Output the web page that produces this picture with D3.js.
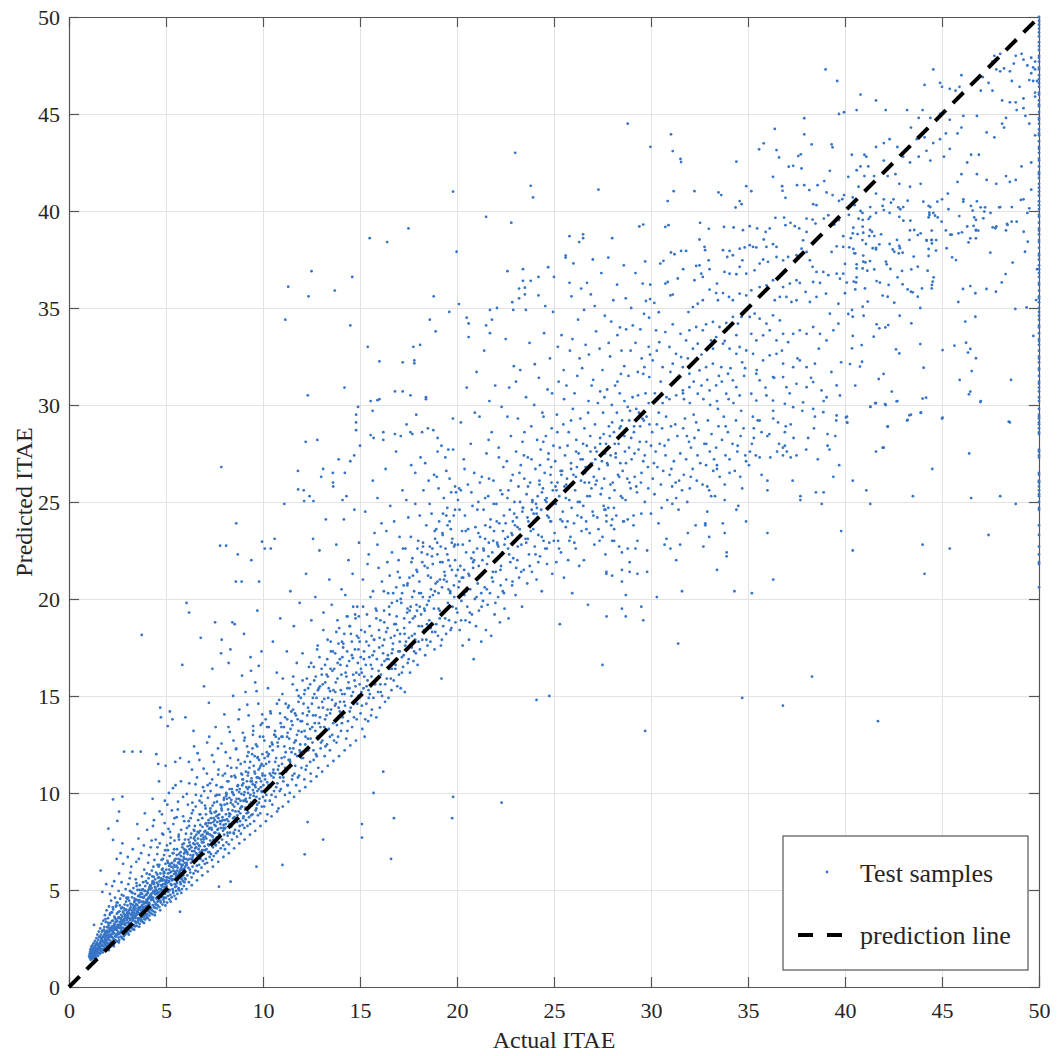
<!DOCTYPE html>
<html>
<head>
<meta charset="utf-8">
<script src="https://cdn.jsdelivr.net/npm/d3@7"></script>
<style>
  body { margin: 0; background: #fff; }
  text { font-family: "Liberation Serif", "Times New Roman", serif; fill: #262626; }
</style>
</head>
<body>
<div class="graph"></div>
<script>
// ---- data, pairs are [actual, predicted] ----
var tickValues = [0, 5, 10, 15, 20, 25, 30, 35, 40, 45, 50];
var referenceLine = [0, 50];
var cappedActual = 50;

var coreLow = [
1.04,1.58, 1.06,1.70, 1.07,1.49, 1.09,1.82, 1.10,1.63, 1.11,1.95, 1.13,1.54, 1.14,1.74, 1.15,2.08, 1.17,1.66, 1.18,1.45, 1.19,1.87, 1.21,2.15, 1.22,1.59, 1.23,1.78, 1.25,1.97, 1.26,1.50, 1.27,2.26, 1.29,1.70, 1.29,3.20, 1.30,1.88,
1.32,2.05, 1.33,1.62, 1.34,2.38, 1.36,1.80, 1.37,1.55, 1.38,2.18, 1.40,1.96, 1.41,2.52, 1.42,1.68, 1.44,2.30, 1.45,1.85, 1.46,2.70, 1.48,2.02, 1.49,1.60, 1.50,2.44, 1.52,1.77, 1.53,2.16, 1.54,2.85, 1.56,1.93, 1.57,2.58, 1.58,1.70, 1.60,2.32,
1.61,3.02, 1.62,2.08, 1.63,6.00, 1.64,1.84, 1.65,2.70, 1.67,2.22, 1.68,3.25, 1.69,1.95, 1.71,2.48, 1.72,4.90, 1.73,2.90, 1.74,1.78, 1.76,2.36, 1.77,3.42, 1.78,2.12, 1.80,2.64, 1.81,1.92, 1.82,3.10, 1.84,2.28, 1.85,3.70, 1.86,2.50, 1.88,2.02, 1.89,2.86, 1.90,3.35, 1.92,2.18, 1.93,2.66, 1.94,3.95, 1.96,2.40, 1.97,3.08, 1.98,2.00, 2.00,2.80,
2.01,3.55, 2.02,2.26, 2.04,3.18, 2.05,2.55, 2.06,4.15, 2.08,2.10, 2.09,2.95, 2.10,3.72, 2.12,2.40, 2.13,3.30, 2.15,2.72, 2.16,2.20, 2.17,4.45, 2.19,3.05, 2.20,2.58, 2.22,3.85, 2.23,5.20, 2.24,2.32, 2.26,3.42, 2.27,2.82, 2.28,4.00, 2.30,2.48, 2.31,3.15, 2.33,2.24, 2.34,3.62, 2.35,2.95, 2.37,4.60, 2.38,2.62, 2.40,3.35, 2.41,2.40, 2.42,4.15, 2.44,3.00, 2.45,2.72, 2.47,3.78, 2.48,2.35, 2.50,3.20,
2.51,4.35, 2.52,2.85, 2.54,3.55, 2.55,2.55, 2.56,4.95, 2.58,3.05, 2.59,2.42, 2.60,3.90, 2.62,2.78, 2.63,3.35, 2.64,4.55, 2.66,2.60, 2.67,3.15, 2.69,3.72, 2.70,2.92, 2.71,5.40, 2.73,2.52, 2.74,4.10, 2.76,3.30, 2.77,2.75, 2.78,3.88, 2.80,3.05, 2.81,4.70, 2.82,2.62, 2.84,3.50, 2.85,2.90, 2.87,4.25, 2.88,3.20, 2.90,2.70, 2.91,3.70, 2.92,5.05, 2.94,3.02, 2.95,4.00, 2.97,2.82, 2.98,3.45, 3.00,4.55,
1.16,1.83, 1.24,1.69, 1.31,1.75, 1.39,1.72, 1.47,2.12, 1.55,2.22, 1.59,1.96, 1.66,2.42, 1.70,2.14, 1.75,2.58, 1.79,2.30, 1.83,2.72, 1.87,2.42, 1.91,2.60, 1.95,2.80, 1.99,2.52, 2.03,2.66, 2.07,2.84, 2.11,2.58, 2.14,3.00, 2.18,2.68, 2.21,3.12, 2.25,2.90, 2.29,3.02, 2.32,2.78, 2.36,3.22, 2.39,3.08, 2.43,3.48, 2.46,2.95, 2.49,3.38, 2.53,3.12, 2.57,3.60, 2.61,3.22, 2.65,3.02, 2.68,3.48, 2.72,3.38, 2.75,3.62, 2.79,3.25, 2.83,3.78, 2.86,3.40, 2.89,3.95, 2.93,3.58, 2.96,3.30, 2.99,3.82,
2.03,8.16, 2.27,9.67, 2.27,7.58, 2.49,8.56, 2.58,9.04, 2.75,9.81, 2.75,7.40, 2.84,12.13
];

var coreMid = [
3.01,3.10, 3.02,4.20, 3.03,2.80, 3.05,3.62, 3.06,5.30, 3.07,3.35, 3.09,2.95, 3.10,4.45, 3.11,3.80, 3.12,3.18, 3.14,4.95, 3.15,3.50, 3.16,2.88, 3.18,4.10, 3.19,3.72, 3.20,3.28, 3.21,6.20, 3.23,3.95, 3.24,3.05, 3.25,4.62, 3.27,3.42, 3.27,12.13, 3.28,4.25, 3.29,2.98, 3.31,3.85, 3.32,5.10, 3.33,3.60, 3.35,3.20, 3.36,4.38, 3.37,3.95, 3.39,3.38, 3.40,4.80, 3.41,3.12, 3.43,4.05, 3.44,5.55, 3.45,3.70, 3.47,3.30, 3.48,4.50, 3.49,3.88, 3.50,3.15,
3.52,4.22, 3.53,5.00, 3.54,3.55, 3.56,3.35, 3.57,4.68, 3.58,3.98, 3.60,6.60, 3.61,3.48, 3.62,4.35, 3.64,3.25, 3.65,5.25, 3.66,3.78, 3.68,4.12, 3.69,3.55, 3.70,12.13, 3.71,4.85, 3.72,3.40, 3.73,4.40, 3.75,18.15, 3.75,3.92, 3.76,5.70, 3.77,3.62, 3.79,4.25, 3.80,3.35, 3.81,5.05, 3.83,4.02, 3.84,3.70, 3.85,4.60, 3.87,3.52, 3.88,6.05, 3.89,4.30, 3.91,3.85, 3.92,4.95, 3.93,3.48, 3.95,4.15, 3.96,5.45, 3.97,3.72, 3.99,4.50, 4.00,3.60,
4.01,4.80, 4.02,3.75, 4.04,5.35, 4.05,4.20, 4.06,3.55, 4.08,6.40, 4.09,4.55, 4.10,3.92, 4.12,5.05, 4.13,4.35, 4.14,3.68, 4.16,5.80, 4.17,4.05, 4.18,4.72, 4.20,3.82, 4.21,7.20, 4.22,5.22, 4.24,4.48, 4.25,3.98, 4.27,6.00, 4.28,4.62, 4.29,3.75, 4.31,5.45, 4.32,4.22, 4.33,8.30, 4.35,4.95, 4.36,3.90, 4.37,5.68, 4.39,4.40, 4.40,6.55, 4.41,4.10, 4.43,5.15, 4.44,3.85, 4.45,4.78, 4.47,7.60, 4.48,4.30, 4.49,5.90, 4.50,12.00,
4.51,4.55, 4.52,4.05, 4.53,5.38, 4.55,6.85, 4.56,4.85, 4.57,4.20, 4.59,5.62, 4.60,11.50, 4.61,4.45, 4.62,6.20, 4.64,10.60, 4.65,5.05, 4.66,4.12, 4.68,7.40, 4.69,4.70, 4.70,14.40, 4.71,5.85, 4.73,4.35, 4.74,13.90, 4.75,5.25, 4.77,6.55, 4.78,4.62, 4.79,8.90, 4.81,5.48, 4.82,4.25, 4.83,6.10, 4.85,4.95, 4.86,7.85, 4.87,4.50, 4.89,5.70, 4.90,6.80, 4.91,4.38, 4.93,5.15, 4.94,9.60, 4.95,4.80, 4.97,6.35, 4.98,11.40, 4.99,5.40,
3.04,3.88, 3.13,4.02, 3.22,3.58, 3.26,3.82, 3.34,4.15, 3.38,3.80, 3.42,3.55, 3.46,4.28, 3.51,3.75, 3.55,4.02, 3.59,3.82, 3.63,4.48, 3.67,4.05, 3.74,3.82, 3.78,4.62, 3.82,4.40, 3.86,4.12, 3.90,4.70, 3.94,4.38, 3.98,3.98, 4.03,4.45, 4.07,4.85, 4.11,4.62, 4.15,4.28, 4.19,5.02, 4.23,4.70, 4.26,5.10, 4.30,4.85, 4.34,4.60, 4.38,5.30, 4.42,4.95, 4.46,5.12, 4.54,4.95, 4.58,5.20, 4.63,4.88, 4.67,5.45, 4.72,5.05, 4.76,5.60, 4.80,5.18, 4.84,5.55, 4.88,5.02, 4.92,5.88, 4.96,5.30,
5.00,4.60, 5.02,6.05, 5.03,5.20, 5.05,7.30, 5.06,4.35, 5.08,5.65, 5.09,13.45, 5.10,6.40, 5.12,4.90, 5.13,8.15, 5.15,10.00, 5.16,5.45, 5.17,4.52, 5.19,6.75, 5.20,14.20, 5.21,5.90, 5.23,4.75, 5.24,7.70, 5.26,5.30, 5.27,6.20, 5.29,4.62, 5.30,9.10, 5.31,5.72, 5.33,13.80, 5.34,5.05, 5.35,6.90, 5.37,4.85, 5.38,8.40, 5.40,5.55, 5.41,6.30, 5.43,4.70, 5.44,7.55, 5.46,5.95, 5.47,5.15, 5.49,10.40, 5.50,6.60, 5.52,4.95, 5.53,5.80, 5.55,8.75, 5.56,5.35, 5.57,7.10, 5.59,4.80, 5.60,6.15, 5.62,9.55, 5.63,5.60, 5.65,5.10, 5.66,7.85, 5.68,6.45, 5.69,4.98, 5.71,5.85, 5.72,3.88, 5.73,11.80, 5.75,6.95, 5.76,5.30, 5.78,8.10, 5.79,5.65, 5.80,6.30, 5.82,5.05, 5.84,16.60, 5.85,7.35, 5.86,5.90, 5.88,9.80, 5.89,5.45, 5.91,6.70, 5.92,5.20, 5.94,8.55, 5.95,6.10, 5.97,5.60, 5.98,7.60, 6.00,13.90,
5.04,5.50, 5.11,5.85, 5.18,5.60, 5.22,6.35, 5.28,5.95, 5.32,5.50, 5.36,6.15, 5.42,5.82, 5.45,6.55, 5.51,5.65, 5.54,6.25, 5.58,6.00, 5.64,6.60, 5.67,5.85, 5.70,6.35, 5.74,6.05, 5.77,6.75, 5.81,6.20, 5.83,5.75, 5.87,6.50, 5.90,6.05, 5.93,6.88, 5.96,6.40, 5.99,6.20
];

var extraLow = [
1.12,1.40, 1.15,1.92, 1.19,1.62, 1.24,2.02, 1.28,1.52, 1.33,1.90, 1.35,2.12, 1.39,1.48, 1.42,2.22, 1.47,1.78, 1.51,1.95, 1.55,2.60, 1.58,2.05, 1.62,1.75, 1.64,2.55, 1.67,1.90, 1.70,2.85, 1.73,2.35, 1.77,1.98, 1.80,2.95, 1.83,2.15, 1.86,2.80, 1.88,3.50, 1.91,2.30, 1.94,2.05, 1.97,2.90, 2.00,2.45, 2.02,3.30, 2.05,2.15, 2.07,3.05, 2.10,2.65, 2.13,3.80, 2.15,2.30, 2.18,2.90, 2.21,3.40, 2.24,2.55, 2.26,4.10, 2.29,2.75, 2.32,3.25, 2.34,2.45, 2.37,3.55, 2.40,3.00, 2.43,2.60, 2.45,4.35, 2.48,3.10, 2.51,2.70, 2.53,3.85, 2.56,3.20, 2.59,2.75, 2.62,4.20, 2.64,3.55, 2.67,2.85, 2.70,3.25, 2.72,4.75, 2.75,3.05, 2.78,3.45, 2.80,2.85, 2.83,4.05, 2.86,3.25, 2.88,3.65, 2.91,3.00, 2.94,4.40, 2.96,3.55, 2.99,3.10,
3.02,3.70, 3.05,4.60, 3.08,3.25, 3.11,3.95, 3.13,5.60, 3.16,3.45, 3.19,4.25, 3.22,3.05, 3.24,3.75, 3.27,4.85, 3.30,3.50, 3.33,4.05, 3.35,3.15, 3.38,4.55, 3.41,3.65, 3.44,4.20, 3.46,3.35, 3.49,5.20, 3.52,3.90, 3.55,4.45, 3.57,3.45, 3.60,4.10, 3.63,5.00, 3.66,3.55, 3.68,4.65, 3.71,3.95, 3.74,3.45, 3.77,4.80, 3.79,4.10, 3.82,5.40, 3.85,3.65, 3.88,4.35, 3.90,3.80, 3.93,5.20, 3.96,4.00, 3.99,4.75,
4.02,3.95, 4.05,4.95, 4.08,4.30, 4.10,5.60, 4.13,3.85, 4.16,4.60, 4.19,5.25, 4.22,4.05, 4.24,4.80, 4.27,3.95, 4.30,5.35, 4.33,4.50, 4.35,6.20, 4.38,4.10, 4.41,4.85, 4.44,5.55, 4.46,4.25, 4.49,5.00, 4.52,4.60, 4.55,5.80, 4.57,4.40, 4.60,5.30, 4.63,4.70, 4.66,6.30, 4.68,5.05, 4.71,4.45, 4.74,5.50, 4.77,4.95, 4.79,6.05, 4.82,4.65, 4.85,5.30, 4.88,5.85, 4.90,4.60, 4.93,5.50, 4.96,7.05, 4.99,4.95,
5.02,5.65, 5.05,5.05, 5.08,6.50, 5.11,4.70, 5.14,5.40, 5.17,6.05, 5.19,5.00, 5.22,7.40, 5.25,5.70, 5.28,5.25, 5.31,6.40, 5.34,5.55, 5.36,4.95, 5.39,6.00, 5.42,7.10, 5.45,5.30, 5.48,6.20, 5.51,5.90, 5.53,5.20, 5.56,6.80, 5.59,5.50, 5.62,6.40, 5.64,5.05, 5.67,7.60, 5.70,5.95, 5.73,5.40, 5.75,6.55, 5.78,6.10, 5.81,5.55, 5.84,7.20, 5.86,6.30, 5.89,5.75, 5.92,6.60, 5.95,5.40, 5.98,6.95
];

var coreSpread = [
2.05,1.90, 2.18,3.85, 2.31,2.10, 2.44,4.20, 2.57,2.30, 2.69,4.05, 2.82,2.45, 2.96,4.60, 3.08,2.70, 3.21,4.90, 3.36,2.95, 3.48,5.35, 3.62,3.10, 3.75,5.00, 3.87,3.30, 4.01,5.85, 4.15,3.45, 4.29,5.70, 4.42,3.70, 4.56,6.30, 4.70,3.95, 4.84,6.60, 4.97,4.20, 5.10,7.05, 5.24,4.40, 5.38,6.90, 5.51,4.55, 5.65,7.75, 5.79,4.85, 5.92,7.40, 6.06,5.05, 6.19,8.30, 6.33,5.25, 6.46,8.05, 6.60,5.50, 6.74,8.90, 6.87,5.75, 7.01,9.35, 7.15,5.95, 7.28,9.05, 7.42,6.20, 7.55,9.85, 7.69,6.45, 7.83,10.30, 7.96,6.70, 8.10,10.00, 8.24,6.90, 8.37,10.85, 8.51,7.15, 8.64,11.30, 8.78,7.40, 8.92,10.95, 9.05,7.60, 9.19,11.90, 9.33,7.85, 9.46,12.30, 9.60,8.05, 9.73,11.85, 9.87,8.30,
10.01,12.90, 10.15,8.55, 10.30,13.40, 10.44,8.80, 10.59,13.00, 10.73,9.05, 10.88,14.10, 11.02,9.30, 11.17,14.60, 11.31,9.55, 11.46,14.20, 11.60,9.80, 11.75,15.30, 11.89,10.10, 12.04,15.80, 12.18,10.30, 12.33,15.40, 12.47,10.60, 12.62,16.50, 12.76,10.85, 12.91,17.00, 13.05,11.10, 13.20,16.60, 13.34,11.40, 13.49,17.80, 13.63,11.65, 13.78,18.30, 13.92,11.90, 14.07,17.80, 14.21,12.20, 14.36,19.10, 14.50,12.45, 14.65,19.60, 14.79,12.70, 14.94,19.10
];

var coreCentre = [
3.06,3.55, 3.17,4.30, 3.28,3.70, 3.39,4.45, 3.53,3.85, 3.64,4.75, 3.76,4.20, 3.89,4.95, 4.00,4.35, 4.14,5.15, 4.27,4.55, 4.37,5.40, 4.51,4.80, 4.64,5.65, 4.76,5.00, 4.89,5.95, 5.03,5.35, 5.16,6.25, 5.29,5.55, 5.43,6.50, 5.55,5.75, 5.68,6.85, 5.81,6.05, 5.94,7.10, 6.07,6.30, 6.21,7.45, 6.35,6.55, 6.48,7.75, 6.62,6.80, 6.76,8.05, 6.89,7.05, 7.03,8.40, 7.17,7.35, 7.31,8.70, 7.45,7.60, 7.58,9.05, 7.72,7.90, 7.86,9.35, 8.00,8.15, 8.14,9.70, 8.28,8.40, 8.41,10.05, 8.55,8.70, 8.69,10.35, 8.83,8.95, 8.97,10.70, 9.10,9.25, 9.24,11.05, 9.38,9.50, 9.52,11.40, 9.66,9.80, 9.80,11.70, 9.94,10.05,
10.08,11.80, 10.22,10.55, 10.36,12.40, 10.52,11.05, 10.66,12.90, 10.81,11.40, 10.95,13.40, 11.11,11.85, 11.25,13.80, 11.39,12.30, 11.55,14.30, 11.69,12.70, 11.83,14.70, 11.99,13.15, 12.13,15.10, 12.29,13.55, 12.43,15.60, 12.58,14.00, 12.72,16.00, 12.87,14.40, 13.02,16.40, 13.16,14.85, 13.31,16.90, 13.46,15.25, 13.60,17.30, 13.75,15.70, 13.89,17.70, 14.04,16.10, 14.19,18.20, 14.33,16.55, 14.48,18.60, 14.63,16.95, 14.77,19.00, 14.92,17.40
];

var scatterAbove = [
2.11,4.80, 2.33,5.45, 2.58,5.85, 2.79,6.35, 3.03,6.70, 3.17,5.90, 3.29,7.10, 3.47,6.45, 3.58,7.65, 3.72,6.90, 3.86,7.30, 4.03,8.10, 4.12,6.80, 4.26,7.55, 4.38,8.60, 4.56,7.20, 4.67,9.05, 4.81,7.90, 4.93,8.45, 5.07,9.40, 5.21,8.00, 5.36,10.25, 5.44,8.70, 5.61,9.15, 5.77,10.60, 5.88,8.80, 6.07,9.95, 6.18,11.60, 6.36,9.50, 6.52,10.45, 6.63,12.05, 6.81,9.85, 6.94,11.25, 7.12,12.60, 7.27,10.50, 7.38,11.95, 7.56,13.40, 7.69,10.95, 7.86,12.55, 8.01,14.05, 8.17,11.40, 8.29,13.15, 8.46,15.00, 8.61,12.25, 8.74,13.80, 8.92,16.05, 9.06,12.85, 9.19,14.55, 9.36,17.00, 9.49,13.45, 9.67,15.25, 9.78,16.55, 9.96,14.05, 2.46,6.60, 3.52,8.40, 4.31,9.70, 5.48,11.60, 6.42,13.20, 7.21,14.65, 8.23,16.70, 9.02,18.20, 9.71,19.40, 1.92,5.30, 2.66,6.90, 3.91,8.95
];

var band6to10 = [
6.01,5.55, 6.03,7.05, 6.05,6.30, 6.06,19.80, 6.08,8.20, 6.10,5.75, 6.11,6.85, 6.13,9.40, 6.15,6.15, 6.16,7.60, 6.18,5.40, 6.19,19.30, 6.20,10.50, 6.22,6.60, 6.24,7.30, 6.25,5.90, 6.27,8.70, 6.29,6.40, 6.30,7.90, 6.32,5.65, 6.34,11.20, 6.35,7.00, 6.37,6.20, 6.39,9.10, 6.40,6.80, 6.42,5.85, 6.44,7.65, 6.45,12.40, 6.47,6.45, 6.49,8.30, 6.50,7.15, 6.52,6.00, 6.54,9.90, 6.55,6.90, 6.57,7.85, 6.59,6.25, 6.60,10.80, 6.62,7.40, 6.64,5.95, 6.66,8.60, 6.67,6.70, 6.69,7.95, 6.71,6.30, 6.72,11.70, 6.74,7.25, 6.76,8.90, 6.78,6.60, 6.79,18.00, 6.81,7.60, 6.83,6.15, 6.84,9.50, 6.86,7.05, 6.88,8.25, 6.90,6.50, 6.91,10.30, 6.93,7.45, 6.95,6.85, 6.96,15.50, 6.98,8.00, 7.00,6.35,
7.02,7.75, 7.04,9.20, 7.05,6.60, 7.07,8.45, 7.09,7.10, 7.11,11.00, 7.12,6.40, 7.14,7.95, 7.16,9.75, 7.18,6.95, 7.19,8.60, 7.21,7.30, 7.23,12.90, 7.25,6.70, 7.26,8.20, 7.28,7.55, 7.30,10.10, 7.32,6.85, 7.33,8.95, 7.35,7.80, 7.37,6.55, 7.39,16.40, 7.40,9.35, 7.42,7.20, 7.44,8.50, 7.46,6.75, 7.47,11.60, 7.49,7.95, 7.51,9.00, 7.53,18.80, 7.54,7.35, 7.56,8.30, 7.58,6.90, 7.60,10.40, 7.61,7.70, 7.63,9.55, 7.65,8.10, 7.67,7.00, 7.68,12.30, 7.70,8.70, 7.72,7.45, 7.73,5.17, 7.75,9.90, 7.77,7.85, 7.79,22.75, 7.80,8.40, 7.82,7.15, 7.84,17.20, 7.85,26.80, 7.86,9.20, 7.87,17.90, 7.89,7.60, 7.91,8.75, 7.93,10.90, 7.95,7.30, 7.96,8.20, 7.98,9.65, 8.00,7.85,
6.04,6.60, 6.09,6.95, 6.14,6.55, 6.21,7.10, 6.26,6.80, 6.31,7.20, 6.36,6.65, 6.41,7.40, 6.46,7.00, 6.51,7.55, 6.56,7.20, 6.61,6.85, 6.65,7.65, 6.70,7.30, 6.75,6.95, 6.80,7.80, 6.85,7.45, 6.89,7.85, 6.94,7.60, 6.99,7.25, 7.03,8.05, 7.08,7.65, 7.13,8.30, 7.17,7.90, 7.22,8.15, 7.27,7.85, 7.31,8.45, 7.36,8.10, 7.41,7.75, 7.45,8.70, 7.50,8.35, 7.55,7.95, 7.59,8.80, 7.64,8.50, 7.69,8.15, 7.74,8.90, 7.78,8.55, 7.83,8.20, 7.88,9.10, 7.92,8.60, 7.97,8.35,
8.02,9.40, 8.04,7.10, 8.06,8.20, 8.08,12.10, 8.10,9.85, 8.10,22.75, 8.12,7.45, 8.14,8.65, 8.16,10.60, 8.18,7.80, 8.20,9.15, 8.22,13.40, 8.24,7.35, 8.26,8.95, 8.28,10.20, 8.30,7.95, 8.32,17.40, 8.33,5.43, 8.34,9.50, 8.36,11.30, 8.38,8.30, 8.40,7.60, 8.42,18.80, 8.44,10.00, 8.46,8.70, 8.48,12.70, 8.50,7.90, 8.52,9.30, 8.54,18.70, 8.56,8.10, 8.58,10.80, 8.60,20.90, 8.62,23.90, 8.64,9.70, 8.66,7.75, 8.68,8.85, 8.70,22.30, 8.72,11.70, 8.74,9.05, 8.76,8.05, 8.78,14.30, 8.80,10.20, 8.82,8.55, 8.84,9.60, 8.86,7.90, 8.88,11.00, 8.90,20.90, 8.92,9.30, 8.94,8.35, 8.96,13.10, 8.98,10.50, 9.00,8.80,
9.02,9.90, 9.04,8.20, 9.06,11.60, 9.08,9.15, 9.10,15.20, 9.12,8.60, 9.14,10.30, 9.16,9.55, 9.18,12.40, 9.20,8.30, 9.22,10.90, 9.24,9.00, 9.26,14.00, 9.28,8.75, 9.30,11.30, 9.32,9.75, 9.34,8.40, 9.36,10.60, 9.38,16.30, 9.40,22.00, 9.42,9.35, 9.44,12.00, 9.46,8.90, 9.48,10.15, 9.50,13.20, 9.52,9.60, 9.54,8.55, 9.56,11.10, 9.58,10.40, 9.60,15.70, 9.62,9.10, 9.64,12.50, 9.66,6.20, 9.68,10.80, 9.70,9.40, 9.72,11.80, 9.74,8.85, 9.76,14.60, 9.78,10.20, 9.80,20.90, 9.82,9.70, 9.84,12.90, 9.86,8.95, 9.88,11.40, 9.90,10.60, 9.92,17.30, 9.94,9.30, 9.95,22.95, 9.96,13.60, 9.98,10.90, 10.00,9.80,
8.03,8.60, 8.09,8.90, 8.15,9.45, 8.21,8.55, 8.27,9.75, 8.31,8.90, 8.37,9.65, 8.43,9.10, 8.49,9.90, 8.53,8.75, 8.59,9.55, 8.65,10.15, 8.71,9.45, 8.77,10.05, 8.83,9.20, 8.89,9.95, 8.93,10.40, 8.99,9.60, 9.05,10.05, 9.11,9.70, 9.17,10.60, 9.23,10.00, 9.29,10.30, 9.35,9.90, 9.41,10.75, 9.47,10.45, 9.53,10.00, 9.59,11.00, 9.65,10.55, 9.71,10.10, 9.77,11.20, 9.83,10.75, 9.89,10.30, 9.93,11.50, 9.97,11.00
];

var extraMid = [
6.03,7.90, 6.07,6.40, 6.12,7.25, 6.17,8.55, 6.23,6.05, 6.28,7.70, 6.33,8.95, 6.38,6.75, 6.43,8.10, 6.48,7.35, 6.53,9.30, 6.58,6.55, 6.63,8.00, 6.68,7.10, 6.73,9.60, 6.77,8.35, 6.82,6.95, 6.87,8.70, 6.92,7.70, 6.97,10.10, 7.01,7.05, 7.06,8.90, 7.10,7.90, 7.15,10.40, 7.20,8.45, 7.24,6.95, 7.29,9.20, 7.34,8.20, 7.38,10.70, 7.43,7.50, 7.48,9.50, 7.52,8.60, 7.57,7.30, 7.62,9.90, 7.66,8.85, 7.71,11.20, 7.76,7.75, 7.81,9.40, 7.85,8.55, 7.90,10.30, 7.94,8.05, 7.99,9.75,
8.04,11.00, 8.08,8.40, 8.13,9.95, 8.17,7.95, 8.22,10.60, 8.26,8.80, 8.31,11.80, 8.35,8.25, 8.40,10.20, 8.44,9.40, 8.49,7.95, 8.53,10.90, 8.58,9.05, 8.62,12.30, 8.67,8.50, 8.71,10.40, 8.76,9.70, 8.80,8.30, 8.85,11.50, 8.89,9.30, 8.94,10.70, 8.98,8.70, 9.03,12.70, 9.07,9.60, 9.12,11.10, 9.16,8.95, 9.21,10.20, 9.25,12.10, 9.30,9.40, 9.34,11.60, 9.39,8.85, 9.43,10.60, 9.48,13.00, 9.52,9.85, 9.57,11.90, 9.61,10.30, 9.66,9.20, 9.70,12.40, 9.75,10.80, 9.79,9.50, 9.84,11.30, 9.88,13.50, 9.93,10.10, 9.97,12.00,
10.02,10.40, 10.07,12.70, 10.12,9.60, 10.16,11.50, 10.21,13.40, 10.26,10.20, 10.30,12.00, 10.35,11.00, 10.40,14.10, 10.44,9.90, 10.49,12.50, 10.54,10.80, 10.58,13.00, 10.63,11.60, 10.68,10.30, 10.72,14.60, 10.77,11.20, 10.82,12.80, 10.86,10.10, 10.91,13.60, 10.96,11.80, 11.00,15.10, 11.05,10.60, 11.10,12.40, 11.14,13.90, 11.19,11.10, 11.24,12.90, 11.28,10.40, 11.33,14.50, 11.38,11.70, 11.42,13.30, 11.47,12.10, 11.52,10.90, 11.56,16.00, 11.61,12.60, 11.66,11.40, 11.70,14.00, 11.75,13.00, 11.80,10.80, 11.84,15.00, 11.89,12.20, 11.94,13.70, 11.98,11.80
];

var band10to15 = [
10.03,11.40, 10.06,9.30, 10.09,22.60, 10.11,10.70, 10.14,13.80, 10.17,9.90, 10.20,12.10, 10.23,8.90, 10.26,15.40, 10.29,10.40, 10.32,11.60, 10.35,9.60, 10.38,14.20, 10.40,22.60, 10.42,10.90, 10.45,12.60, 10.48,9.40, 10.51,17.80, 10.54,11.20, 10.57,10.10, 10.60,23.10, 10.62,13.20, 10.65,9.80, 10.68,11.80, 10.71,16.20, 10.74,10.50, 10.77,12.40, 10.80,9.20, 10.83,14.80, 10.86,11.00, 10.89,19.00, 10.92,10.20, 10.95,12.90, 10.98,11.50, 11.00,6.29, 11.02,15.90, 11.05,10.80, 11.08,13.40, 11.10,24.90, 11.13,9.90, 11.15,34.40, 11.17,12.10, 11.20,11.20, 11.23,17.30, 11.26,10.40, 11.29,14.40, 11.30,36.10, 11.32,11.70, 11.35,12.80, 11.38,10.00, 11.41,20.40, 11.44,11.40, 11.47,13.70, 11.50,10.70, 11.53,15.60, 11.56,12.30, 11.59,18.60, 11.62,11.00, 11.65,14.10, 11.68,12.70, 11.71,10.40, 11.74,16.70, 11.77,11.90, 11.80,26.60, 11.81,25.65, 11.83,13.20, 11.86,10.90, 11.89,19.80, 11.92,12.50, 11.95,14.90, 11.98,11.30,
12.01,13.70, 12.04,17.20, 12.07,11.80, 12.10,25.60, 12.12,25.05, 12.13,10.70, 12.15,6.84, 12.16,15.30, 12.19,12.90, 12.20,28.10, 12.22,21.30, 12.25,11.40, 12.28,14.00, 12.30,8.50, 12.31,30.50, 12.33,12.20, 12.35,35.60, 12.37,16.50, 12.40,25.30, 12.43,13.30, 12.46,11.00, 12.49,18.90, 12.50,36.90, 12.52,14.60, 12.55,12.60, 12.58,23.10, 12.60,25.05, 12.61,11.70, 12.64,15.80, 12.67,13.60, 12.70,20.10, 12.73,12.00, 12.76,14.90, 12.79,17.40, 12.80,28.20, 12.82,12.90, 12.85,11.30, 12.88,15.40, 12.91,22.50, 12.94,13.90, 12.97,12.30, 13.00,26.30, 13.03,16.10, 13.06,12.70, 13.09,14.40, 13.10,7.60, 13.10,26.70, 13.12,19.30, 13.15,13.10, 13.18,11.90, 13.21,15.70, 13.24,24.10, 13.27,14.00, 13.30,12.50, 13.33,17.90, 13.36,14.90, 13.39,13.30, 13.42,21.00, 13.45,12.20, 13.48,16.40, 13.51,14.30, 13.54,19.70, 13.57,13.00, 13.60,26.50, 13.61,26.00, 13.62,25.80, 13.63,15.30, 13.66,12.70, 13.70,35.90, 13.72,17.20, 13.75,14.60, 13.78,22.80, 13.81,13.50, 13.84,15.90, 13.87,12.90, 13.90,27.20, 13.93,18.50, 13.96,14.20, 13.99,16.60,
14.02,13.20, 14.05,20.50, 14.08,15.10, 14.10,25.10, 14.11,13.90, 14.14,17.70, 14.17,24.10, 14.20,30.90, 14.22,26.50, 14.23,14.50, 14.26,16.20, 14.29,12.80, 14.30,25.30, 14.32,19.10, 14.35,15.40, 14.38,13.70, 14.41,22.00, 14.44,16.80, 14.47,14.20, 14.50,34.10, 14.50,27.10, 14.53,18.20, 14.56,15.00, 14.59,13.40, 14.60,36.60, 14.62,21.30, 14.65,16.10, 14.68,14.60, 14.70,27.40, 14.71,24.60, 14.74,17.40, 14.77,15.50, 14.80,29.50, 14.80,29.10, 14.80,28.70, 14.83,13.80, 14.86,19.60, 14.89,16.70, 14.90,29.90, 14.92,15.00, 14.95,22.90, 14.98,17.80, 15.00,27.90,
10.10,10.90, 10.25,11.90, 10.37,10.30, 10.50,12.20, 10.63,11.00, 10.75,12.60, 10.88,10.80, 11.01,12.90, 11.14,11.30, 11.27,13.10, 11.40,11.60, 11.52,13.50, 11.66,12.00, 11.79,13.80, 11.91,12.10, 12.05,14.10, 12.18,12.50, 12.32,14.40, 12.45,12.80, 12.57,14.90, 12.70,13.20, 12.83,15.30, 12.96,13.40, 13.08,15.60, 13.20,13.80, 13.34,16.00, 13.46,14.10, 13.58,16.30, 13.71,14.50, 13.85,16.70, 13.97,14.70, 14.09,17.00, 14.21,15.10, 14.34,17.30, 14.46,15.40, 14.58,17.80, 14.72,15.80, 14.84,18.10, 14.96,16.10
];

var extraHigh = [
12.03,12.10, 12.09,14.60, 12.14,13.20, 12.20,11.20, 12.26,15.90, 12.31,12.80, 12.37,14.20, 12.43,11.60, 12.48,16.70, 12.54,13.40, 12.60,12.20, 12.65,15.10, 12.71,14.00, 12.77,11.90, 12.82,17.60, 12.88,13.60, 12.94,15.50, 12.99,12.60, 13.05,14.70, 13.11,18.40, 13.16,13.40, 13.22,12.40, 13.28,16.10, 13.33,14.30, 13.39,15.40, 13.45,12.90, 13.50,17.30, 13.56,14.80, 13.62,13.60, 13.67,16.40, 13.73,15.20, 13.79,12.60, 13.84,18.90, 13.90,14.40, 13.96,16.90,
14.01,15.30, 14.07,13.60, 14.13,17.50, 14.18,14.70, 14.24,20.20, 14.30,16.00, 14.35,13.20, 14.41,15.70, 14.47,18.60, 14.52,14.40, 14.58,17.10, 14.64,15.20, 14.69,13.90, 14.75,19.20, 14.81,16.20, 14.86,14.60, 14.92,18.00, 14.98,15.60,
15.04,17.00, 15.10,14.50, 15.16,19.60, 15.22,16.00, 15.27,13.80, 15.33,17.80, 15.39,21.80, 15.44,15.30, 15.50,18.60, 15.56,16.60, 15.61,14.30, 15.67,20.40, 15.73,17.30, 15.78,15.80, 15.84,19.00, 15.90,22.80, 15.96,16.30, 16.01,18.00, 16.07,15.20, 16.13,20.90, 16.19,17.20, 16.24,19.40, 16.30,15.60, 16.36,23.50, 16.42,18.50, 16.47,16.90, 16.53,21.20, 16.59,15.90, 16.64,19.80, 16.70,17.70, 16.76,24.00, 16.82,16.40, 16.87,20.60, 16.93,18.40, 16.99,22.00,
17.05,17.30, 17.10,20.00, 17.16,16.20, 17.22,22.60, 17.28,19.00, 17.33,17.60, 17.39,25.10, 17.45,20.80, 17.51,16.90, 17.56,19.40, 17.62,23.20, 17.68,18.10, 17.73,21.20, 17.79,17.30, 17.85,26.50, 17.91,19.70, 17.96,22.60, 18.02,17.80, 18.08,24.30, 18.14,20.30, 18.19,18.60, 18.25,22.90, 18.31,19.50, 18.36,27.00, 18.42,17.90, 18.48,21.60, 18.54,19.90, 18.59,24.90, 18.65,18.50, 18.71,22.20, 18.76,20.20, 18.82,26.40, 18.88,18.30, 18.93,23.60, 18.99,20.90,
19.05,25.70, 19.11,19.40, 19.16,22.70, 19.22,17.90, 19.28,24.40, 19.33,21.00, 19.39,19.00, 19.45,26.60, 19.50,22.30, 19.56,20.50, 19.62,24.00, 19.67,18.40, 19.73,22.90, 19.79,29.30, 19.84,20.70, 19.90,24.60, 19.96,19.50
];

var band15to25 = [
15.05,16.40, 15.25,18.30, 15.45,14.90, 15.65,17.10, 15.85,19.40, 16.05,15.60, 16.25,17.90, 16.45,20.30, 16.65,16.40, 16.85,18.70, 17.05,21.10, 17.25,17.10, 17.45,19.50, 17.65,21.90, 17.85,17.90, 18.05,20.30, 18.25,22.70, 18.45,18.70, 18.65,21.10, 18.85,23.50, 19.05,19.50, 19.25,21.90, 19.45,24.30, 19.65,20.30, 19.85,22.70, 20.05,25.10, 20.25,21.10, 20.45,23.50, 20.65,18.80, 20.85,22.40, 21.05,24.60, 21.25,20.30, 21.45,23.10, 21.65,26.20, 21.85,21.40, 22.05,24.00, 22.25,20.70, 22.45,22.80, 22.65,25.60, 22.85,23.30, 23.05,21.60, 23.25,25.00, 23.45,27.40, 23.65,23.10, 23.85,24.60, 24.05,22.30, 24.25,25.90, 24.45,28.10, 24.65,24.30, 24.85,26.80
];

var band15to20 = [
15.03,14.10, 15.06,18.40, 15.09,16.20, 15.10,8.40, 15.10,7.70, 15.12,13.30, 15.15,21.00, 15.18,15.40, 15.21,17.30, 15.24,12.90, 15.27,24.50, 15.30,16.60, 15.33,14.60, 15.36,19.20, 15.39,15.80, 15.40,33.00, 15.42,13.70, 15.45,22.30, 15.48,17.00, 15.50,38.60, 15.51,15.10, 15.54,20.10, 15.55,30.20, 15.55,28.45, 15.57,14.00, 15.60,18.10, 15.63,16.40, 15.65,29.70, 15.66,26.10, 15.69,14.90, 15.70,10.00, 15.72,17.90, 15.70,28.30, 15.75,23.40, 15.78,15.60, 15.81,19.50, 15.84,13.90, 15.87,16.90, 15.90,30.25, 15.90,25.20, 15.93,15.20, 15.96,21.60, 15.99,17.50, 16.00,32.25, 16.00,30.30, 16.02,14.40, 16.05,18.90, 16.08,16.10, 16.11,23.90, 16.14,15.00, 16.17,17.60, 16.20,11.10, 16.20,28.60, 16.20,28.20, 16.23,20.40, 16.26,16.80, 16.29,14.70, 16.32,26.70, 16.35,18.30, 16.38,15.90, 16.40,38.40, 16.41,21.90, 16.44,17.10, 16.47,14.90, 16.50,19.60, 16.53,16.40, 16.56,24.80, 16.59,18.00, 16.60,6.60, 16.62,15.30, 16.65,22.40, 16.68,17.40, 16.71,20.30, 16.74,15.80, 16.75,8.70, 16.77,18.70, 16.80,30.70, 16.80,28.50, 16.83,16.60, 16.86,27.60, 16.89,19.10, 16.92,15.50, 16.95,21.40, 16.98,17.30,
17.01,16.10, 17.04,23.20, 17.07,18.20, 17.10,28.40, 17.10,15.40, 17.13,19.80, 17.16,17.00, 17.19,25.60, 17.20,32.20, 17.20,30.70, 17.22,16.50, 17.25,20.70, 17.28,18.50, 17.31,15.20, 17.34,22.60, 17.37,17.80, 17.40,29.00, 17.43,19.30, 17.46,16.70, 17.49,24.20, 17.50,39.10, 17.52,18.00, 17.55,21.10, 17.58,16.20, 17.60,30.50, 17.61,19.60, 17.60,28.60, 17.64,26.90, 17.67,17.50, 17.70,28.50, 17.70,22.10, 17.73,19.00, 17.75,33.00, 17.76,16.80, 17.79,20.40, 17.80,32.30, 17.80,32.15, 17.82,18.20, 17.85,24.90, 17.88,17.20, 17.90,29.50, 17.91,21.50, 17.94,19.40, 17.97,16.60, 18.00,23.00, 18.03,18.60, 18.06,20.90, 18.09,17.40, 18.10,33.10, 18.12,27.30, 18.15,19.20, 18.18,22.40, 18.20,28.60, 18.21,17.90, 18.24,20.10, 18.27,25.60, 18.30,18.40, 18.33,21.70, 18.36,17.10, 18.40,30.40, 18.40,30.30, 18.42,23.80, 18.45,19.70, 18.48,17.60, 18.50,28.80, 18.51,21.20, 18.54,26.10, 18.57,18.90, 18.60,34.40, 18.60,22.70, 18.63,17.80, 18.66,20.50, 18.69,24.40, 18.72,18.30, 18.75,21.80, 18.78,28.70, 18.80,35.60, 18.81,19.50, 18.84,17.40, 18.87,23.10, 18.90,33.80, 18.90,20.80, 18.93,18.70, 18.96,26.30, 18.99,22.30,
19.00,28.30, 19.00,27.60, 19.02,18.10, 19.05,20.30, 19.08,24.00, 19.11,19.00, 19.14,21.90, 19.17,17.60, 19.20,27.90, 19.20,15.90, 19.23,20.60, 19.26,23.30, 19.29,18.60, 19.32,25.20, 19.35,21.40, 19.38,19.40, 19.40,27.30, 19.41,22.60, 19.44,18.20, 19.47,20.90, 19.50,24.70, 19.53,19.80, 19.55,27.70, 19.56,22.00, 19.59,18.90, 19.60,34.80, 19.62,26.20, 19.65,20.40, 19.68,23.60, 19.70,25.50, 19.71,18.50, 19.74,21.50, 19.75,8.70, 19.77,19.60, 19.80,27.70, 19.80,9.80, 19.80,41.00, 19.83,24.30, 19.86,20.10, 19.89,22.80, 19.90,25.80, 19.92,18.80, 19.95,25.50, 19.95,21.20, 19.98,37.90,
15.07,15.20, 15.20,16.90, 15.34,15.50, 15.46,17.60, 15.59,16.00, 15.73,17.90, 15.86,15.90, 15.98,18.40, 16.12,16.60, 16.25,18.80, 16.38,16.90, 16.52,19.20, 16.64,17.20, 16.78,18.10, 16.91,19.90, 17.05,17.80, 17.17,20.30, 17.30,18.20, 17.44,20.70, 17.56,18.80, 17.69,20.10, 17.83,19.10, 17.95,21.40, 18.08,19.60, 18.21,21.90, 18.34,19.40, 18.47,22.30, 18.60,20.10, 18.73,22.60, 18.86,20.40, 18.98,22.90, 19.12,21.00, 19.25,23.40, 19.38,21.20, 19.51,23.80, 19.64,21.70, 19.76,23.10, 19.90,22.00
];

var band20to25 = [
20.02,19.30, 20.05,22.80, 20.08,20.60, 20.10,35.20, 20.11,25.70, 20.14,18.40, 20.17,21.70, 20.20,25.60, 20.20,29.10, 20.23,19.90, 20.26,23.50, 20.29,17.60, 20.32,21.10, 20.35,27.20, 20.38,20.20, 20.41,24.30, 20.44,18.90, 20.47,22.40, 20.50,34.50, 20.50,30.90, 20.53,19.60, 20.56,25.90, 20.59,21.30, 20.60,34.20, 20.60,33.50, 20.62,17.90, 20.65,23.00, 20.68,20.50, 20.71,28.00, 20.74,22.10, 20.77,19.20, 20.80,24.80, 20.83,21.60, 20.86,16.90, 20.89,26.50, 20.92,20.00, 20.95,23.70, 20.98,18.60,
21.01,31.70, 21.04,22.60, 21.07,20.80, 21.10,25.00, 21.13,19.40, 21.16,29.40, 21.19,23.20, 21.22,21.20, 21.25,17.80, 21.28,26.30, 21.31,22.00, 21.34,19.90, 21.37,24.60, 21.40,32.80, 21.43,20.60, 21.46,23.80, 21.49,18.40, 21.50,39.70, 21.50,34.10, 21.52,27.50, 21.55,21.80, 21.58,19.70, 21.61,25.30, 21.64,22.90, 21.67,30.20, 21.70,34.90, 21.70,33.70, 21.70,20.30, 21.73,24.10, 21.76,18.10, 21.80,34.40, 21.79,28.60, 21.82,22.40, 21.85,20.90, 21.88,26.10, 21.91,23.50, 21.94,19.20, 21.97,31.00,
22.00,21.40, 22.03,24.90, 22.06,35.00, 22.09,22.80, 22.12,20.10, 22.15,27.80, 22.18,23.90, 22.21,18.80, 22.24,25.60, 22.27,21.70, 22.30,9.50, 22.30,29.90, 22.33,22.40, 22.36,20.40, 22.39,26.80, 22.42,24.30, 22.45,19.50, 22.48,23.10, 22.51,33.40, 22.54,21.00, 22.57,27.10, 22.60,36.90, 22.60,25.20, 22.63,22.60, 22.66,19.00, 22.69,30.90, 22.72,24.60, 22.75,21.90, 22.78,28.40, 22.80,39.40, 22.81,23.40, 22.84,20.70, 22.85,35.30, 22.87,26.40, 22.90,34.90, 22.90,22.10, 22.93,32.00, 22.96,25.00, 22.99,23.80,
23.00,43.00, 23.02,20.20, 23.05,27.60, 23.08,24.20, 23.11,22.00, 23.14,29.30, 23.17,25.80, 23.20,36.00, 23.20,35.50, 23.20,21.10, 23.23,23.60, 23.26,31.80, 23.29,26.90, 23.32,22.80, 23.35,19.60, 23.38,28.10, 23.40,37.00, 23.40,36.40, 23.41,24.70, 23.44,21.50, 23.47,26.20, 23.50,36.05, 23.50,35.70, 23.53,23.10, 23.55,34.90, 23.56,30.40, 23.59,25.40, 23.62,20.80, 23.65,27.30, 23.68,24.00, 23.71,22.30, 23.74,33.20, 23.77,26.00, 23.80,41.30, 23.80,36.40, 23.80,23.50, 23.83,28.90, 23.86,21.40, 23.89,25.10, 23.92,40.70, 23.95,24.40, 23.98,30.00,
24.01,22.70, 24.04,26.70, 24.07,24.90, 24.10,14.80, 24.10,21.00, 24.13,28.20, 24.16,25.30, 24.20,36.60, 24.20,35.65, 24.19,23.30, 24.22,31.40, 24.25,26.10, 24.28,22.20, 24.31,27.70, 24.34,24.60, 24.37,20.40, 24.40,29.60, 24.43,25.70, 24.46,23.00, 24.49,33.70, 24.52,26.50, 24.55,35.10, 24.55,22.60, 24.58,28.40, 24.61,25.00, 24.64,21.80, 24.67,30.80, 24.70,37.10, 24.70,27.20, 24.73,24.20, 24.76,15.00, 24.76,22.90, 24.79,32.40, 24.82,26.40, 24.85,24.00, 24.88,28.80, 24.91,21.30, 24.95,34.80, 24.94,25.60, 24.97,27.90, 25.00,36.60,
20.12,20.90, 20.37,21.50, 20.63,21.20, 20.88,22.00, 21.12,21.70, 21.38,22.50, 21.62,22.20, 21.87,23.00, 22.13,22.70, 22.37,23.50, 22.62,23.20, 22.88,24.00, 23.12,23.70, 23.37,24.50, 23.63,24.20, 23.88,25.00, 24.12,24.70, 24.38,25.50, 24.62,25.20, 24.87,26.00
];

var extra20to30 = [
20.04,21.50, 20.13,24.60, 20.21,18.90, 20.30,22.80, 20.39,26.70, 20.48,20.40, 20.57,23.60, 20.66,19.30, 20.74,25.50, 20.83,21.90, 20.92,29.60, 21.01,20.10, 21.10,23.40, 21.18,26.00, 21.27,19.60, 21.36,22.60, 21.45,25.20, 21.54,20.50, 21.63,28.20, 21.71,23.70, 21.80,21.10, 21.89,24.90, 21.98,19.80, 22.07,22.90, 22.16,27.30, 22.24,21.50, 22.33,25.40, 22.42,20.30, 22.51,23.90, 22.60,29.40, 22.69,22.30, 22.78,26.10, 22.86,20.90, 22.95,24.40, 23.04,31.20, 23.13,22.70, 23.22,26.50, 23.31,21.40, 23.39,24.70, 23.48,28.60, 23.57,22.90, 23.66,25.80, 23.75,21.70, 23.84,27.20, 23.93,23.60, 24.01,32.10, 24.10,24.40, 24.19,21.90, 24.28,26.90, 24.37,23.20, 24.46,29.40, 24.54,25.10, 24.63,22.60, 24.72,27.50, 24.81,24.00, 24.90,30.60, 24.99,23.00,
25.08,25.80, 25.17,28.60, 25.26,22.60, 25.34,26.60, 25.43,24.00, 25.52,30.30, 25.61,25.20, 25.70,27.90, 25.79,23.00, 25.88,29.20, 25.96,25.90, 26.05,22.90, 26.14,27.60, 26.23,25.00, 26.32,32.40, 26.41,24.20, 26.50,28.00, 26.58,26.00, 26.67,23.60, 26.76,29.60, 26.85,25.30, 26.94,31.00, 27.03,24.30, 27.12,27.80, 27.20,26.10, 27.29,23.60, 27.38,30.70, 27.47,25.70, 27.56,28.50, 27.65,24.60, 27.74,27.00, 27.82,33.20, 27.91,25.90, 28.00,29.10, 28.09,24.70, 28.18,27.50, 28.27,31.20, 28.36,26.30, 28.44,28.90, 28.53,25.20, 28.62,32.00, 28.71,27.00, 28.80,29.90, 28.89,26.00, 28.98,28.30, 29.06,34.10, 29.15,27.50, 29.24,25.80, 29.33,30.50, 29.42,28.10, 29.51,26.50, 29.60,31.60, 29.68,27.40, 29.77,29.40, 29.86,25.70, 29.95,32.60,
25.20,33.00, 25.50,31.80, 25.95,33.40, 26.20,31.50, 26.55,34.90, 26.80,32.60, 27.10,35.10, 27.35,32.90, 27.60,30.40, 27.95,34.30, 28.25,36.20, 28.45,31.60, 28.70,35.50, 28.95,32.80, 29.20,36.80, 29.45,33.90, 29.70,37.40, 29.90,34.50, 27.00,37.50, 28.00,38.60, 28.40,34.00, 26.40,36.00
];

var band25to30 = [
25.03,23.40, 25.06,27.10, 25.09,24.90, 25.12,21.90, 25.15,29.50, 25.18,26.00, 25.21,23.00, 25.24,31.20, 25.27,25.30, 25.30,18.70, 25.30,27.80, 25.33,24.10, 25.36,22.40, 25.39,33.60, 25.42,26.60, 25.45,24.50, 25.48,29.00, 25.51,21.10, 25.54,25.80, 25.57,27.40, 25.60,37.60, 25.60,37.70, 25.61,23.70, 25.64,31.00, 25.67,26.20, 25.70,24.00, 25.73,22.00, 25.76,28.60, 25.79,25.10, 25.80,38.70, 25.80,36.30, 25.82,32.80, 25.85,23.20, 25.88,27.00, 25.90,35.60, 25.91,24.70, 25.94,20.30, 25.97,29.80, 26.00,37.30, 26.00,26.40,
26.03,23.90, 26.06,30.60, 26.09,25.60, 26.12,22.60, 26.15,28.20, 26.18,26.80, 26.21,24.30, 26.24,34.40, 26.27,27.50, 26.30,38.40, 26.30,21.70, 26.33,25.00, 26.36,29.30, 26.39,26.10, 26.42,23.50, 26.45,31.90, 26.48,27.20, 26.50,38.80, 26.50,38.60, 26.51,24.80, 26.54,22.00, 26.57,28.80, 26.60,26.50, 26.63,33.10, 26.66,24.00, 26.70,36.30, 26.69,27.90, 26.72,25.30, 26.75,19.70, 26.78,30.20, 26.81,26.00, 26.84,23.40, 26.87,28.40, 26.90,35.70, 26.93,25.70, 26.96,27.00, 26.99,24.50,
27.02,31.30, 27.05,26.30, 27.08,22.80, 27.11,29.00, 27.14,25.90, 27.17,33.80, 27.20,27.60, 27.23,24.20, 27.26,30.10, 27.29,41.10, 27.32,26.70, 27.35,23.00, 27.38,28.30, 27.41,25.40, 27.44,36.80, 27.47,27.10, 27.50,16.60, 27.50,23.20, 27.50,31.80, 27.53,29.60, 27.56,24.80, 27.59,26.20, 27.62,34.60, 27.65,22.30, 27.68,28.00, 27.70,21.40, 27.70,24.00, 27.71,19.10, 27.74,30.80, 27.77,26.90, 27.80,24.70, 27.80,37.60, 27.83,28.90, 27.86,25.20, 27.89,32.50, 27.92,27.40, 27.95,23.80, 27.98,30.00, 27.60,24.60, 27.70,24.30, 27.70,21.30,
28.00,21.20, 28.00,23.00, 28.10,23.60, 28.03,26.00, 28.06,35.40, 28.09,28.60, 28.12,25.60, 28.15,31.00, 28.18,27.30, 28.21,24.30, 28.24,29.60, 28.27,33.60, 28.30,26.40, 28.33,28.00, 28.36,22.70, 28.39,30.60, 28.42,27.00, 28.45,25.30, 28.50,22.40, 28.50,20.90, 28.50,21.50, 28.50,19.50, 28.48,32.80, 28.51,29.20, 28.54,26.60, 28.57,24.00, 28.60,24.00, 28.60,37.20, 28.63,30.20, 28.66,27.60, 28.70,20.20, 28.70,19.10, 28.69,25.10, 28.72,33.90, 28.75,28.80, 28.78,26.20, 28.80,44.50, 28.80,24.10, 28.80,22.60, 28.84,31.50, 28.87,27.80, 28.90,21.40, 28.90,21.90, 28.92,29.70, 28.95,25.70, 28.98,35.00, 28.10,23.00, 28.00,24.10,
29.00,27.20, 29.05,30.40, 29.10,24.30, 29.10,23.80, 29.12,28.60, 29.16,26.30, 29.20,33.20, 29.20,22.60, 29.24,29.80, 29.28,25.50, 29.30,21.30, 29.30,23.00, 29.32,31.70, 29.36,27.70, 29.40,39.20, 29.44,28.90, 29.48,26.00, 29.50,19.60, 29.50,24.40, 29.52,32.40, 29.56,29.30, 29.60,18.90, 29.60,27.10, 29.64,34.70, 29.68,25.00, 29.70,13.20, 29.72,30.60, 29.76,28.10, 29.80,21.40, 29.80,22.50, 29.84,26.80, 29.88,33.00, 29.92,29.00, 29.96,36.20, 30.00,24.40, 30.00,27.90,
25.13,25.60, 25.38,26.40, 25.63,25.90, 25.88,26.70, 26.13,26.30, 26.38,27.20, 26.63,26.80, 26.88,27.60, 27.13,27.20, 27.38,28.00, 27.63,27.50, 27.88,28.40, 28.13,28.00, 28.38,28.80, 28.63,28.40, 28.88,29.20, 29.13,28.90, 29.38,29.60, 29.63,29.20, 29.88,30.10
];

var band30to40 = [
31.03,43.95, 29.97,43.31, 31.12,43.09, 31.52,42.68, 31.55,42.52, 31.17,41.02, 32.24,41.02, 30.86,40.51, 33.48,40.96, 33.62,40.82, 34.40,42.54, 34.91,41.28, 35.17,41.02, 34.57,40.51, 34.67,40.35, 34.36,40.18, 36.38,44.23, 37.90,44.78, 37.90,43.95, 38.28,43.43, 39.31,43.43, 39.36,43.28, 39.69,45.00, 39.95,45.09, 35.57,43.18, 35.81,43.49, 36.47,43.14, 36.60,42.76, 37.59,42.83, 37.72,42.92, 37.10,42.28, 37.33,42.33, 37.76,42.19, 36.29,41.76, 39.22,42.07, 36.76,41.28, 36.78,41.04, 36.93,40.68, 37.53,41.33, 37.90,41.33, 38.16,41.08, 38.59,41.33, 38.93,41.54, 39.05,40.96, 39.36,40.82, 39.69,40.52, 39.86,40.61, 39.95,40.82, 38.36,40.35, 38.53,40.30, 39.00,47.30, 39.60,46.70,
29.60,39.30, 30.74,39.18, 30.90,39.27, 32.53,39.39, 32.50,38.53, 32.98,39.08, 33.76,39.18, 34.26,39.15, 34.74,39.01, 35.09,39.22, 35.47,39.10, 35.91,38.92, 36.12,39.10, 36.41,39.65, 36.86,39.66, 36.93,39.27, 37.19,39.39, 37.41,39.22, 37.64,39.10, 38.02,39.61, 38.33,39.56, 38.48,39.35, 38.91,39.61, 39.14,39.78, 38.02,38.92, 37.84,38.49, 39.45,39.30, 39.69,39.53, 39.91,38.70, 30.48,37.29, 30.64,37.43, 31.03,37.86, 31.21,37.77, 31.55,37.94, 31.81,37.94, 32.76,38.15, 32.79,37.98, 32.50,37.20, 32.33,37.17, 32.97,37.46, 33.02,37.00, 31.66,37.00, 30.74,36.26, 30.86,36.34, 31.00,35.65, 31.12,35.69, 29.57,36.26, 29.74,35.36, 29.95,35.46, 30.17,35.26, 30.40,34.78, 31.38,36.52, 32.24,36.43, 32.59,36.77, 32.67,36.60, 33.40,36.26, 33.02,35.95, 33.36,35.77, 32.67,35.40, 32.41,35.22, 31.93,34.79, 32.16,35.05, 33.71,37.98, 34.05,37.94, 34.22,37.72, 33.93,37.63, 34.57,38.06, 34.83,38.12, 34.71,37.46, 35.09,38.24, 35.26,38.15, 35.43,38.12, 35.81,38.53, 35.95,38.15, 36.29,38.29, 36.47,38.15, 33.79,36.86, 34.05,36.77, 34.40,36.74, 34.57,37.12, 34.91,36.77, 35.34,36.94, 35.60,37.29, 35.78,37.50, 36.03,37.38, 36.47,37.63, 36.81,37.46, 37.07,37.63, 37.50,37.72, 37.76,38.06, 38.02,37.89, 38.19,37.46, 38.33,37.12, 38.53,36.86, 38.88,36.86, 39.14,36.69, 39.57,36.77, 39.74,36.51, 39.91,36.77, 39.31,37.89, 39.57,38.18, 39.91,38.15, 37.97,35.83, 37.67,36.29, 38.36,36.34, 38.71,36.29, 37.16,36.26, 37.50,36.43, 36.81,36.08, 36.29,36.43, 35.95,36.17, 35.60,36.08, 35.17,35.91, 34.91,35.65, 34.57,35.74, 34.22,35.40, 34.02,35.57, 33.71,35.77, 33.45,35.40, 36.38,35.40, 36.64,35.57, 36.98,35.57, 37.24,35.31, 37.50,35.40, 38.19,35.31, 38.53,35.57, 39.02,35.74, 39.66,35.22, 39.22,34.71,
30.26,33.85, 30.74,33.76, 31.12,34.16, 31.52,33.67, 31.98,33.85, 30.43,33.24, 30.95,32.99, 31.29,32.64, 30.09,32.30, 29.66,31.95, 29.91,31.44, 30.60,31.95, 31.12,32.13, 31.55,32.47, 31.81,33.33, 32.16,32.90, 32.41,33.16, 32.33,34.02, 32.67,33.85, 32.84,34.16, 33.19,34.28, 33.53,34.02, 33.88,34.23, 34.22,34.54, 34.48,34.19, 34.66,34.54, 33.10,33.33, 33.36,33.50, 33.71,33.16, 34.05,32.90, 34.40,32.64, 34.57,32.99, 34.91,32.81, 31.64,31.95, 31.98,31.61, 32.50,31.78, 32.84,31.95, 33.19,32.13, 33.62,31.95, 33.97,31.61, 34.22,31.27, 31.12,31.09, 31.64,30.75, 31.98,30.92, 32.41,30.58, 33.02,30.75, 33.36,31.01, 33.88,30.58, 34.40,30.92, 34.57,30.49, 35.09,34.54, 35.34,34.71, 35.60,34.45, 35.95,34.19, 36.29,34.62, 36.64,34.36, 35.17,33.67, 35.43,33.33, 35.78,33.59, 36.12,33.85, 36.47,33.33, 36.81,33.67, 37.07,33.24, 37.33,33.67, 37.67,33.85, 38.02,33.67, 38.36,34.02, 38.71,33.67, 39.05,33.33, 39.40,33.85, 39.66,34.19, 35.26,32.64, 35.78,32.30, 36.12,32.56, 36.47,32.64, 36.81,32.13, 37.33,31.95, 37.67,32.30, 38.02,31.95, 38.45,32.13, 35.43,31.61, 35.60,31.27, 36.29,31.44, 36.81,31.44, 36.98,30.92, 37.50,31.09, 38.02,30.92, 38.36,31.18, 38.79,30.75, 39.05,30.40, 39.57,31.01, 39.74,30.49, 35.17,30.58, 35.43,30.23, 35.95,30.49, 36.29,30.23, 36.90,30.06, 37.33,29.89, 37.84,30.14, 38.36,29.80, 38.88,29.63, 39.57,29.46,
30.20,30.60, 30.50,31.20, 30.80,30.40, 31.00,31.70, 31.40,31.40, 31.70,30.30, 31.90,32.40, 32.20,31.20, 32.60,32.60, 32.90,31.30, 33.20,32.90, 33.50,31.50, 33.80,33.30, 34.10,31.90, 34.40,33.60, 34.70,32.20, 30.30,32.80, 30.60,30.10, 31.30,30.50, 32.00,30.10, 32.70,30.30, 33.40,30.20, 34.00,30.30, 34.80,31.50,
30.06,28.60, 30.09,26.20, 30.18,25.40, 30.24,27.60, 30.30,20.10, 30.30,29.00, 30.33,26.80, 30.39,23.90, 30.45,28.00, 30.51,25.90, 30.57,28.80, 30.63,26.60, 30.70,22.80, 30.75,27.40, 30.78,29.40, 30.80,23.10, 30.84,25.10, 30.90,28.20, 30.96,26.40, 31.00,22.60, 31.03,28.90, 31.09,25.80, 31.10,24.90, 31.18,27.10, 31.27,26.00, 31.30,22.00, 31.30,25.20, 31.36,28.40, 31.40,17.70, 31.42,24.60, 31.50,22.80, 31.51,27.50, 31.60,20.40, 31.60,25.60, 31.66,28.80, 31.69,26.40, 31.75,29.30, 31.81,27.20, 31.87,25.00, 31.90,23.40, 31.96,28.10, 32.00,25.70, 32.06,27.80, 32.15,26.70, 32.24,28.30, 32.30,23.80, 32.33,29.10, 32.36,26.10, 32.45,28.70, 32.54,27.00, 32.66,25.90, 32.70,22.70, 32.75,28.00, 32.80,23.80, 32.80,23.90, 32.84,26.90, 32.90,24.50, 32.90,25.80, 32.93,29.20, 33.00,23.20, 33.00,25.60, 33.03,27.60, 33.10,25.30, 33.12,28.50, 33.21,26.60, 33.30,25.30, 33.36,27.80, 33.40,21.50, 33.40,26.70, 33.40,26.90, 33.48,28.90, 33.54,26.30, 33.66,28.20, 33.70,23.90, 33.75,29.40, 33.80,23.40, 33.80,25.90, 33.80,25.10, 33.84,27.40, 33.90,22.40, 33.90,22.20, 33.96,28.60, 34.05,27.20, 34.20,28.00, 34.30,20.40, 34.32,26.60, 34.38,29.20, 34.40,24.60, 34.47,27.90, 34.50,24.80, 34.60,26.30, 34.62,28.40, 34.70,14.90, 34.70,25.70, 34.77,28.80, 34.86,27.40, 34.90,24.00,
35.20,20.30, 35.10,27.60, 35.20,28.00, 35.30,28.80, 35.30,28.30, 35.40,27.40, 35.60,27.30, 35.50,29.20, 35.60,29.20, 34.90,27.10, 36.00,23.40, 36.00,25.60, 36.00,26.10, 36.00,28.40, 36.10,28.50, 36.30,21.00, 36.30,29.30, 36.30,29.70, 36.50,27.60, 36.60,28.00, 36.80,14.50, 36.80,27.80, 36.80,27.40, 36.90,27.90, 36.90,28.60, 37.00,27.60, 37.20,27.30, 37.20,29.00, 37.50,27.40, 37.70,25.10, 37.70,25.30, 38.10,28.30, 38.30,16.00, 38.40,28.80, 38.50,25.50, 38.80,24.90, 38.90,25.50, 39.10,28.50, 39.20,27.70, 39.50,28.40, 39.70,26.90, 39.80,23.50, 35.70,26.40, 37.30,26.10, 38.60,27.20, 39.40,26.30,
30.15,27.00, 30.40,29.60, 30.55,24.70, 30.70,27.90, 30.95,30.30, 31.05,26.70, 31.25,29.00, 31.45,26.10, 31.65,30.60, 31.85,28.40, 32.05,26.30, 32.20,29.50, 32.40,27.40, 32.60,31.00, 32.85,28.00, 33.05,30.00, 33.25,27.20, 33.45,29.80, 33.65,31.20, 33.85,28.90, 34.05,26.50, 34.25,30.10, 34.45,27.60, 34.65,29.70, 34.85,31.90, 35.05,26.90, 35.25,29.40, 35.45,31.80, 35.70,28.60, 35.90,30.90, 36.15,27.30, 36.35,31.40, 36.55,29.10, 36.75,32.80, 36.95,28.90, 37.15,30.60, 37.35,28.30, 37.55,32.40, 37.80,29.70, 38.00,27.70, 38.25,31.40, 38.45,29.40, 38.65,32.90, 38.90,30.20, 39.10,27.90, 39.30,31.70, 39.55,29.20, 39.80,32.20
];

var band40to50 = [
44.55,47.30, 40.80,46.00, 41.60,45.70, 40.60,45.20, 42.10,45.20, 44.10,46.50, 44.90,46.60, 45.00,46.40, 45.40,46.30, 45.70,46.20, 45.90,46.40, 46.00,47.00, 47.60,47.70, 47.70,48.00, 48.00,48.10, 47.80,47.30, 48.80,48.00, 49.10,48.10, 49.20,47.80, 49.60,47.90, 49.80,47.70, 49.70,47.40, 49.40,47.50, 49.80,47.30, 49.60,47.10, 48.70,47.60, 48.50,47.20, 48.20,47.35, 48.00,47.20, 48.60,46.70, 49.00,46.40, 49.50,46.75, 49.70,46.70, 49.90,46.70, 47.10,46.90, 47.40,46.60, 47.00,46.20, 47.60,46.20, 48.10,45.70, 48.50,45.60, 48.80,45.60, 49.20,45.80, 49.80,45.90, 48.85,45.20, 49.20,45.30, 49.80,46.10,
46.80,44.90, 47.30,44.05, 47.70,43.80, 48.20,44.30, 48.30,44.80, 48.10,44.50, 49.30,44.90, 49.50,44.50, 49.80,43.90, 49.60,42.50, 49.10,42.30, 48.30,41.80, 48.50,41.50, 48.80,41.60, 47.80,41.40, 47.30,41.60, 46.80,41.90, 46.50,42.90, 46.90,42.90, 46.30,42.50, 46.00,41.90, 45.80,41.50, 45.30,40.90, 45.20,39.00, 45.00,40.60, 44.55,39.90, 44.40,40.20, 46.10,40.60, 46.80,40.50, 47.50,39.90, 48.00,40.20, 48.60,40.20, 49.20,40.60, 49.60,41.10, 49.40,39.90, 48.85,39.45, 48.30,39.00, 47.80,39.20, 46.75,39.00, 46.30,39.20, 45.85,38.85, 44.70,38.50, 44.45,38.50, 44.20,38.50, 43.90,38.85, 43.35,39.00, 42.80,39.70, 42.30,39.90, 42.00,40.05, 41.60,39.90, 41.30,39.70,
43.70,43.70, 43.40,44.30, 43.20,45.20, 44.00,45.20, 44.40,44.80, 43.80,44.80, 44.10,43.80, 44.55,43.50, 44.90,43.70, 45.20,44.00, 44.20,43.10, 43.80,42.80, 43.35,42.50, 43.00,42.80, 42.70,43.30, 42.30,43.70, 42.00,43.50, 41.60,43.30, 41.10,42.80, 40.80,42.30, 41.00,41.80, 41.50,41.80, 42.00,42.60, 42.20,41.80, 42.60,41.90, 42.80,41.40, 43.35,41.25, 43.90,41.40, 44.40,42.60, 45.10,42.80, 45.40,43.20, 45.80,44.00, 46.00,44.30, 45.40,44.70, 44.90,45.00, 46.10,44.90, 40.17,41.76,
40.40,40.70, 40.70,41.25, 41.20,42.30, 40.35,42.90, 41.00,42.90, 40.60,42.10, 41.60,40.90, 42.00,40.60, 41.30,40.20, 40.90,39.90, 42.50,40.60, 43.00,40.20, 40.40,38.85, 40.90,38.50, 41.60,38.10, 42.30,38.30, 42.80,38.20, 40.20,39.80, 40.50,40.30, 40.70,39.60, 40.30,38.60, 40.80,40.00,
41.94,40.26, 42.37,40.43, 42.75,40.19, 42.85,40.09, 43.23,40.53, 44.04,40.48, 44.31,40.26, 44.76,40.48, 44.35,39.91, 44.35,39.79, 44.31,39.67, 44.64,39.76, 44.78,39.67, 45.33,40.09, 45.89,39.74, 46.10,40.48, 46.49,40.26, 46.58,40.02, 46.66,39.67, 46.75,39.54, 46.99,40.19, 47.22,40.19, 47.18,39.97, 47.13,39.62, 47.95,40.19, 49.07,40.57, 49.50,40.14, 46.63,39.23, 46.75,39.02, 46.87,38.99, 47.61,39.16, 47.75,39.11, 48.35,39.33, 48.38,39.28, 48.59,39.45, 49.21,38.93, 49.42,38.42, 49.28,37.90, 48.64,37.34, 48.28,36.75, 48.08,36.32, 47.78,35.84, 47.29,35.98, 46.72,35.76, 46.46,36.13, 46.08,35.98, 45.84,35.31, 47.49,37.85, 46.75,38.59, 46.46,38.59, 46.37,38.38, 46.03,38.90, 45.43,38.78, 45.50,38.78, 45.24,38.08, 45.52,37.61, 45.72,37.47, 44.98,39.45, 44.47,38.99, 44.48,38.51, 44.48,38.33, 44.21,38.47, 44.69,37.96, 44.31,38.04, 44.31,37.68, 43.75,38.76, 43.57,39.02, 43.37,39.50, 43.01,39.50, 43.32,38.51, 43.54,37.65, 43.75,37.13, 43.42,36.99, 44.26,36.92, 44.57,36.58, 44.52,36.36, 44.48,36.19, 44.47,36.01, 43.97,36.01, 43.75,35.58, 43.40,35.84, 43.49,35.81, 43.23,35.96, 42.97,36.22, 42.71,36.58, 42.94,36.91, 42.54,35.27, 42.20,35.58, 41.94,35.64, 42.25,36.19, 41.80,36.31, 41.63,36.39, 41.03,36.01, 41.17,35.33, 40.91,35.07, 40.53,35.96, 40.45,36.36, 40.57,36.32, 40.09,36.31, 40.00,35.76, 40.60,36.58, 41.15,36.92, 41.51,36.99, 40.91,37.04, 40.60,37.04, 40.60,37.25, 40.94,37.39, 41.05,37.35, 41.29,37.42, 42.11,37.39, 42.15,37.25, 42.34,37.01, 40.94,37.70, 40.48,37.82, 40.53,37.82, 40.22,38.13, 40.43,38.04, 40.00,37.27, 41.43,38.08, 41.60,38.02, 41.77,38.28, 41.08,38.30, 41.29,39.02, 41.39,38.93, 40.91,39.19, 40.94,38.88, 41.25,38.71, 41.51,38.71, 41.86,38.80, 40.43,39.14, 40.65,38.81, 41.22,39.59, 40.91,39.54, 42.46,38.02, 42.54,37.90, 42.83,38.08, 42.77,37.82, 42.97,37.85, 42.68,38.51,
43.88,35.00, 42.82,34.60, 43.42,34.21, 42.23,34.12, 42.08,34.00, 41.77,33.95, 41.63,34.16, 41.48,33.52, 40.40,33.56, 40.17,34.69, 40.40,34.55, 40.36,34.90, 40.96,34.60, 40.86,33.09, 40.36,32.92, 40.88,32.23, 40.77,31.98, 40.26,32.11, 40.53,31.00, 42.63,32.87, 42.80,32.66, 43.88,33.14, 41.99,31.60, 41.74,31.34, 42.41,30.69, 42.66,30.19, 44.05,31.92, 44.00,30.33, 44.18,30.38, 42.06,30.05, 41.56,30.09, 41.31,29.91, 40.05,29.36, 40.12,29.09, 43.32,29.47, 43.23,29.23, 43.92,29.60, 42.20,28.88, 41.94,27.80, 45.03,32.83, 45.03,29.35, 45.64,33.06, 46.20,34.30, 46.72,34.55, 46.24,33.21, 46.46,32.89, 46.34,32.70, 46.75,32.41, 46.53,31.75, 45.91,31.29, 46.46,30.69, 46.39,30.55, 46.98,30.15, 48.78,34.95, 49.36,35.03, 49.71,33.56, 48.56,31.29, 48.44,29.14, 49.85,35.41, 49.90,37.00,
40.40,22.50, 44.10,21.30, 44.00,22.80, 45.40,22.60, 47.40,23.30, 48.80,24.90, 46.50,25.20, 43.50,25.30, 41.30,24.90, 41.10,25.60, 44.50,26.70, 46.40,27.50, 42.00,27.80, 41.60,27.60, 40.40,26.10, 45.00,29.30, 48.50,29.10, 42.20,28.90, 43.20,29.20, 43.40,29.50, 43.90,29.60, 42.10,30.00, 41.60,30.10, 41.30,29.90, 47.00,30.20, 42.70,30.20, 40.10,29.40, 40.10,29.10, 41.70,13.70, 48.00,25.30
];

// predicted values of the samples whose actual ITAE sits at the 50 cap
var cappedPredicted = [
20.6, 21.8, 21.9, 22.3, 22.7, 23.3, 23.8, 24.6, 24.7, 25.0, 25.3, 25.4, 25.6, 25.8, 26.0, 26.05, 26.1, 26.4, 26.5, 27.3, 27.4, 27.6, 27.7, 28.5, 28.6, 28.8, 29.0, 29.1, 29.3, 29.4, 29.5, 29.8, 30.2,
30.4, 30.7, 30.9, 31.1, 31.2, 31.5, 31.8, 31.9, 32.2, 32.4, 32.5, 32.8, 33.1, 33.3, 33.4, 33.7, 34.0, 34.1, 34.4, 34.6, 34.8, 35.0, 35.3, 35.5, 35.6, 35.9, 36.2, 36.3, 36.6, 36.8, 37.0, 37.2, 37.5, 37.7, 37.8, 38.1, 38.4, 38.5, 38.8, 39.0, 39.1, 39.4, 39.7, 39.8,
40.1, 40.3, 40.5, 40.8, 41.0, 41.2, 41.4, 41.7, 41.9, 42.0, 42.3, 42.6, 42.7, 43.0, 43.2, 43.3, 43.6, 43.9, 44.0, 44.2, 44.5, 44.7, 44.8, 45.1, 45.4, 45.5, 45.7, 46.0, 46.1, 46.4, 46.6, 46.8, 47.0, 47.3, 47.4, 47.7, 47.9, 48.0, 48.3, 48.5, 48.7, 49.0, 49.2, 49.4, 49.6, 49.8, 50.0
];

var legendLabels = ["Test samples", "prediction line"];

// ---- layout ----
var width = 1059;
var height = 1056;
var plot = {left: 69, top: 17, size: 970};
var pointColor = "#3674c6";
var axisColor = "#555";

function toSamples(flat) {
    var out = [];
    for (var i = 0; i < flat.length; i += 2) {
        out.push({actual: flat[i], predicted: flat[i + 1]});
    }
    return out;
}

var samples = []
    .concat(toSamples(coreLow), toSamples(coreMid), toSamples(extraLow), toSamples(coreSpread),
            toSamples(coreCentre), toSamples(scatterAbove), toSamples(band6to10), toSamples(extraMid),
            toSamples(band10to15), toSamples(extraHigh), toSamples(band15to25), toSamples(band15to20),
            toSamples(band20to25), toSamples(extra20to30), toSamples(band25to30),
            toSamples(band30to40), toSamples(band40to50))
    .concat(cappedPredicted.map(function (p) { return {actual: cappedActual, predicted: p}; }));

var svg = d3.select(".graph").append("svg")
    .attr("width", width)
    .attr("height", height)
    .style("display", "block")
    .style("background", "#fff");

var x = d3.scaleLinear()
    .domain([0, 50])
    .range([plot.left, plot.left + plot.size]);

var y = d3.scaleLinear()
    .domain([0, 50])
    .range([plot.top + plot.size, plot.top]);

// gridlines
svg.append("g")
    .attr("transform", "translate(0," + y(0) + ")")
    .call(d3.axisBottom(x).tickValues(tickValues).tickFormat("").tickSize(-plot.size).tickSizeOuter(0))
    .call(function (g) { g.select(".domain").remove(); })
    .selectAll("line").attr("stroke", "#e3e3e3");

svg.append("g")
    .attr("transform", "translate(" + x(0) + ",0)")
    .call(d3.axisLeft(y).tickValues(tickValues).tickFormat("").tickSize(-plot.size).tickSizeOuter(0))
    .call(function (g) { g.select(".domain").remove(); })
    .selectAll("line").attr("stroke", "#e3e3e3");

// axes (box with inward ticks)
function styleAxis(g) {
    g.select(".domain").attr("stroke", axisColor).attr("stroke-width", 1.2);
    g.selectAll(".tick line").attr("stroke", axisColor).attr("stroke-width", 1.2);
    g.selectAll("text")
        .style("font-family", "'Liberation Serif', 'Times New Roman', serif")
        .style("font-size", "22px")
        .attr("fill", "#262626");
}

svg.append("g")
    .attr("transform", "translate(0," + y(0) + ")")
    .call(d3.axisBottom(x).tickValues(tickValues).tickSize(-10).tickSizeOuter(0).tickPadding(15))
    .call(styleAxis);

svg.append("g")
    .attr("transform", "translate(" + x(0) + ",0)")
    .call(d3.axisLeft(y).tickValues(tickValues).tickSize(-10).tickSizeOuter(0).tickPadding(9))
    .call(styleAxis);

svg.append("g")
    .attr("transform", "translate(0," + y(50) + ")")
    .call(d3.axisTop(x).tickValues(tickValues).tickFormat("").tickSize(-10).tickSizeOuter(0))
    .call(styleAxis);

svg.append("g")
    .attr("transform", "translate(" + x(50) + ",0)")
    .call(d3.axisRight(y).tickValues(tickValues).tickFormat("").tickSize(-10).tickSizeOuter(0))
    .call(styleAxis);

// scatter
svg.append("g")
    .selectAll("circle")
    .data(samples)
    .enter()
    .append("circle")
    .attr("cx", function (d) { return x(d.actual); })
    .attr("cy", function (d) { return y(d.predicted); })
    .attr("r", 1.4)
    .attr("fill", pointColor);

// prediction line y = x
var line = d3.line()
    .x(function (d) { return x(d); })
    .y(function (d) { return y(d); });

svg.append("path")
    .datum(referenceLine)
    .attr("fill", "none")
    .attr("stroke", "#000")
    .attr("stroke-width", 4)
    .style("stroke-dasharray", "15, 10")
    .attr("d", line);

// axis titles
svg.append("text")
    .attr("x", x(25))
    .attr("y", 1048)
    .style("text-anchor", "middle")
    .style("font-size", "24px")
    .text("Actual ITAE");

svg.append("text")
    .attr("transform", "translate(32," + y(25) + ") rotate(-90)")
    .style("text-anchor", "middle")
    .style("font-size", "24px")
    .text("Predicted ITAE");

// legend
var legend = svg.append("g");

legend.append("rect")
    .attr("x", 783)
    .attr("y", 836)
    .attr("width", 245)
    .attr("height", 134)
    .attr("fill", "#fff")
    .attr("stroke", axisColor)
    .attr("stroke-width", 1.2);

legend.append("circle")
    .attr("cx", 827)
    .attr("cy", 872)
    .attr("r", 1.4)
    .attr("fill", pointColor);

legend.append("line")
    .attr("x1", 798)
    .attr("x2", 843)
    .attr("y1", 935)
    .attr("y2", 935)
    .attr("stroke", "#000")
    .attr("stroke-width", 4)
    .style("stroke-dasharray", "15, 14");

legend.selectAll("text.label")
    .data(legendLabels)
    .enter()
    .append("text")
    .attr("class", "label")
    .attr("x", 860)
    .attr("y", function (d, i) { return 882 + i * 62; })
    .style("font-size", "26px")
    .text(function (d) { return d; });
</script>
</body>
</html>
